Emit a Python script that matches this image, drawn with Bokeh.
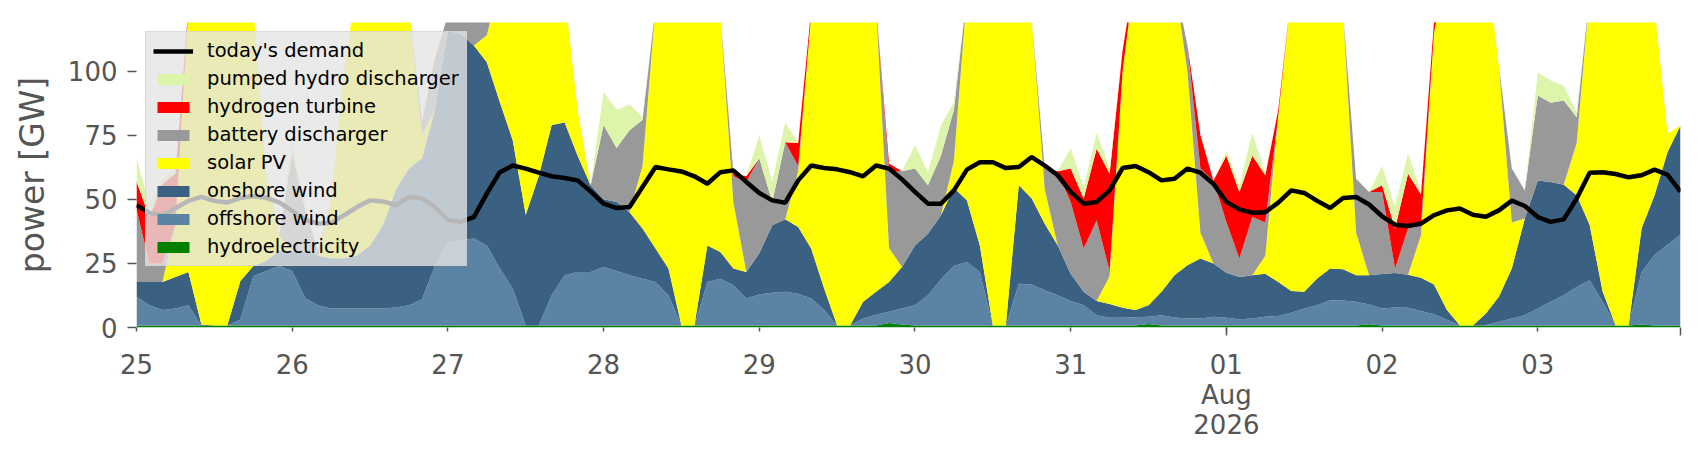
import numpy as np
from bokeh.plotting import figure
from bokeh.models import ColumnDataSource, Range1d, FixedTicker, Legend, LegendItem
from bokeh.embed import file_html
from bokeh.resources import INLINE

# time axis: hours since 2026-07-25 00:00, two-hour steps
hours = np.arange(0, 240, 2)

day_ticks = [0, 24, 48, 72, 96, 120, 144, 168, 192, 216]
day_labels = ["25", "26", "27", "28", "29", "30", "31", "01\nAug\n2026", "02", "03"]
month_ticks = [168, 238]

hydroelectricity = [0.8] * 120
hydroelectricity[58] = 1.8
hydroelectricity[59] = 1.2
hydroelectricity[78] = 1.4
hydroelectricity[95] = 1.3
hydroelectricity[116] = 1.2

offshore_wind = [
    11.2, 7.9, 6.0, 6.6, 7.9, 0, 0, 0, 2.2, 19.2, 21.2, 23.2,
    21.2, 10.7, 7.9, 6.6, 6.6, 6.6, 6.6, 6.6, 7.0, 7.9, 10.2, 23.2,
    32.2, 33.2, 33.9, 31.2, 22.2, 14.4, 0, 0, 11.8, 19.6, 20.9, 20.9,
    22.8, 21.2, 19.6, 18.2, 17.0, 11.8, 0, 0, 17.0, 18.2, 15.7, 10.5,
    12.1, 12.8, 13.1, 12.4, 10.5, 6.0, 0, 0, 2.7, 4.2, 4.3, 6.2,
    7.9, 11.8, 18.0, 23.2, 24.8, 20.9, 0, 0, 16.3, 16.0, 13.7, 11.8,
    9.5, 7.9, 4.0, 3.0, 3.0, 3.2, 2.8, 4.0, 3.1, 2.7, 2.7, 3.4,
    3.0, 2.4, 2.7, 3.4, 3.7, 5.0, 6.6, 7.9, 9.8, 9.7, 9.2, 7.7,
    6.6, 7.0, 6.9, 5.6, 4.4, 2.2, 0, 0, 0.2, 1.4, 2.7, 4.0,
    6.6, 9.2, 11.8, 15.0, 17.6, 9.2, 0, 0, 20.5, 27.6, 31.5, 35.4,
]
onshore_wind = [
    5.8, 9.1, 11.0, 12.3, 13.0, 0.4, 0, 0, 15.0, 4.0, 4.0, 6.0,
    8.0, 18.5, 19.3, 19.6, 19.6, 20.6, 24.6, 32.6, 46.2, 53.3, 55.0, 61.0,
    82.8, 80.5, 75.3, 71.5, 65.0, 57.8, 43.2, 58.2, 66.4, 59.6, 45.3, 33.8,
    26.4, 27.0, 24.6, 19.6, 13.0, 10.4, 0, 0, 14.2, 10.5, 6.5, 10.4,
    16.1, 26.3, 28.3, 26.0, 19.5, 8.4, 0, 0, 6.5, 8.9, 11.7, 16.2,
    23.3, 24.0, 25.0, 30.4, 24.0, 10.3, 0, 0, 38.4, 33.5, 26.0, 19.4,
    10.7, 5.2, 5.5, 5.4, 3.9, 2.8, 4.5, 9.1, 16.5, 20.8, 23.4, 20.8,
    17.6, 16.5, 16.9, 16.8, 13.3, 8.4, 6.5, 10.4, 12.4, 12.2, 10.4, 11.4,
    13.5, 13.5, 12.9, 13.0, 11.6, 3.8, 0, 0, 4.5, 9.8, 19.5, 37.7,
    50.0, 46.8, 43.1, 35.8, 21.6, 4.0, 0, 0, 16.9, 23.2, 36.1, 42.6,
]
solar_pv = [
    0, 0, 0, 20.3, 103.3, 138.8, 149.2, 144.2, 122.0, 101.0, 34.0, 6.0,
    0, 0, 0, 23.0, 73.0, 107.0, 118.0, 110.0, 86.0, 63.0, 9.0, 0,
    0, 0, 0, 10.5, 47.0, 77.0, 111.0, 96.0, 71.0, 50.0, 18.0, 0,
    0, 0, 0, 24.4, 94.2, 122.0, 149.2, 149.2, 118.0, 92.5, 26.0, 0,
    0, 0, 0, 21.8, 91.2, 129.8, 149.2, 149.2, 135.0, 111.1, 13.2, 0,
    0, 0, 0, 10.6, 80.4, 113.0, 149.2, 149.2, 94.5, 69.7, 13.5, 0,
    0, 0, 0, 10.8, 92.3, 133.2, 141.3, 136.1, 114.6, 75.7, 10.1, 0,
    0, 0, 0, 7.0, 64.9, 115.8, 131.1, 130.9, 122.0, 99.3, 16.6, 0,
    0, 0, 0, 16.6, 98.2, 133.2, 149.2, 149.2, 139.5, 90.0, 18.0, 0,
    0, 0, 0, 20.4, 90.0, 131.0, 149.2, 149.2, 106.4, 73.4, 7.2, 0,
]
battery_discharger = [
    28.2, 7.2, 7.2, 0, 0, 0, 0, 0, 0, 0, 0, 0,
    38.0, 16.0, 2.0, 0, 0, 0, 0, 0, 0, 0, 5.0, 20.0,
    6.2, 6.5, 11.0, 8.0, 0, 0, 0, 0, 0, 0, 0, 0,
    29.0, 21.0, 32.0, 18.0, 0, 0, 0, 0, 0, 0, 10.0, 35.1,
    37.0, 9.1, 30.1, 2.0, 0, 0, 0, 0, 0, 0, 30.0, 37.4,
    30.0, 18.9, 23.2, 20.0, 0, 0, 0, 0, 0, 0, 8.0, 28.6,
    28.0, 16.9, 31.5, 2.0, 0, 0, 0, 0, 0, 10.0, 25.0, 32.4,
    19.8, 7.2, 22.7, 13.0, 0, 0, 0, 0, 0, 0, 21.0, 32.5,
    32.0, 1.7, 18.0, 4.0, 0, 0, 0, 0, 0, 0, 21.0, 11.0,
    33.1, 30.9, 32.9, 10.0, 0, 0, 0, 0, 0, 0, 0, 0,
]
hydrogen_turbine = [
    11.0, 18.0, 31.0, 20.0, 0, 0, 0, 0, 0, 0, 0, 0,
    0, 0, 0, 0, 0, 0, 0, 0, 0, 0, 0, 0,
    0, 0, 0, 0, 0, 0, 0, 0, 0, 0, 0, 0,
    0, 0, 0, 0, 0, 0, 0, 0, 0, 0, 1.0, 2.2,
    0, 0, 0, 9.0, 2.0, 0, 0, 0, 0, 0, 3.0, 0,
    0, 0, 0, 0, 0, 0, 0, 0, 0, 0, 0, 0.4,
    13.0, 19.5, 27.9, 38.0, 8.0, 0, 0, 0, 0, 0, 13.0, 0,
    25.8, 26.0, 23.9, 18.4, 2.3, 0, 0, 0, 0, 0, 0, 0,
    2.6, 15.6, 21.4, 12.0, 4.0, 0, 0, 0, 0, 0, 0, 0,
    0, 0, 0, 0, 0, 0, 0, 0, 0, 0, 0, 0,
]
pumped_hydro_discharger = [
    9.0, 5.0, 2.0, 2.0, 0, 0, 0, 0, 0, 0, 0, 0,
    4.0, 2.0, 0, 0, 0, 0, 0, 0, 0, 0, 0, 0,
    0, 0, 0, 0, 0, 0, 0, 0, 0, 0, 0, 0,
    13.0, 15.0, 10.0, 1.0, 0, 0, 0, 0, 0, 0, 0, 0,
    9.0, 8.0, 7.7, 0, 0, 0, 0, 0, 0, 0, 0, 0,
    9.0, 5.1, 11.8, 3.0, 0, 0, 0, 0, 0, 0, 0, 0,
    8.0, 4.5, 6.3, 2.0, 0, 0, 0, 0, 0, 0, 0, 0,
    2.0, 2.6, 9.0, 0.6, 0, 0, 0, 0, 0, 0, 0, 0,
    7.5, 8.4, 8.0, 1.0, 0, 0, 0, 0, 0, 0, 0, 0,
    8.9, 8.7, 5.8, 2.0, 0, 0, 0, 0, 0, 0, 0, 0,
]
todays_demand = [
    47.7, 44.7, 43.8, 46.5, 49.4, 51.0, 49.4, 48.8, 50.5, 51.3, 50.6, 48.8,
    45.5, 42.0, 40.5, 40.9, 43.8, 47.0, 49.6, 49.2, 47.7, 51.0, 50.4, 47.0,
    42.0, 41.2, 43.1, 52.2, 60.6, 63.2, 62.0, 60.4, 59.0, 58.3, 57.4, 53.1,
    48.3, 46.6, 47.0, 54.8, 62.6, 61.7, 60.9, 59.0, 56.1, 60.6, 61.3, 56.8,
    52.5, 49.6, 48.7, 57.4, 63.2, 62.2, 61.7, 60.6, 59.0, 63.2, 62.0, 57.8,
    52.9, 48.3, 48.3, 53.5, 61.6, 64.5, 64.5, 62.2, 62.6, 66.5, 63.2, 59.4,
    52.9, 48.3, 49.0, 53.5, 62.2, 63.0, 60.6, 57.4, 58.0, 62.0, 60.4, 56.1,
    49.0, 46.1, 44.8, 45.0, 48.7, 53.5, 52.5, 49.4, 46.6, 50.5, 50.9, 48.0,
    43.4, 40.1, 39.6, 40.5, 43.8, 45.7, 46.4, 44.0, 43.2, 45.7, 49.5, 47.4,
    43.1, 41.2, 42.2, 50.3, 60.4, 60.6, 59.9, 58.6, 59.4, 61.6, 59.6, 53.0,
]

names = ["hydroelectricity", "offshore wind", "onshore wind", "solar PV",
         "battery discharger", "hydrogen turbine", "pumped hydro discharger"]
keys = ["hydro", "offshore", "onshore", "solar", "battery", "hydrogen", "pumped"]
colors = ["#008000", "#5b83a4", "#3b6182", "#ffff00", "#999999", "#ff0000", "#dcf5aa"]

src = ColumnDataSource(dict(
    x=hours, hydro=hydroelectricity, offshore=offshore_wind, onshore=onshore_wind,
    solar=solar_pv, battery=battery_discharger, hydrogen=hydrogen_turbine,
    pumped=pumped_hydro_discharger, demand=todays_demand,
))

FONT = "DejaVu Sans"
GRAY = "#555555"

p = figure(width=1698, height=452, output_backend="svg", toolbar_location=None,
           x_range=Range1d(0, 238), y_range=Range1d(0, 119),
           min_border_left=136, min_border_right=18, min_border_top=22,
           min_border_bottom=125)
p.outline_line_color = None
p.grid.visible = False
p.background_fill_color = "white"

stack = p.varea_stack(stackers=keys, x="x", color=colors, source=src)
dl = p.line("x", "demand", source=src, line_color="black", line_width=4.5)

items = [LegendItem(label="today's demand", renderers=[dl])]
for i in range(6, -1, -1):
    items.append(LegendItem(label=names[i], renderers=[stack[i]]))
legend = Legend(items=items, location="top_left", margin=9, padding=7, spacing=5,
                glyph_width=40, glyph_height=14, label_height=22, label_standoff=14,
                label_text_font=FONT, label_text_font_size="19.5px",
                label_text_color="black", label_text_line_height=1.0,
                background_fill_color="#e5e5e5", background_fill_alpha=0.8,
                border_line_color="#cccccc", border_line_width=1)
p.add_layout(legend)

# axes
p.yaxis.ticker = FixedTicker(ticks=[0, 25, 50, 75, 100])
p.yaxis.axis_label = "power [GW]"
p.xaxis.ticker = FixedTicker(ticks=day_ticks, minor_ticks=month_ticks)
p.xaxis.major_label_overrides = {t: lab for t, lab in zip(day_ticks, day_labels)}

for ax in (p.xaxis, p.yaxis):
    ax.axis_line_color = None
    ax.major_tick_line_color = GRAY
    ax.major_tick_line_width = 1.5
    ax.major_tick_in = 0
    ax.major_label_text_font = FONT
    ax.major_label_text_font_size = "26px"
    ax.major_label_text_color = GRAY
    ax.axis_label_text_font = FONT
    ax.axis_label_text_font_size = "33px"
    ax.axis_label_text_font_style = "normal"
    ax.axis_label_text_color = GRAY

p.yaxis.major_tick_out = 9
p.yaxis.minor_tick_line_color = None
p.yaxis.major_label_standoff = 10
p.yaxis.axis_label_standoff = 13

p.xaxis.major_tick_out = 4
p.xaxis.minor_tick_out = 8
p.xaxis.minor_tick_in = 0
p.xaxis.minor_tick_line_color = GRAY
p.xaxis.minor_tick_line_width = 1.5
p.xaxis.major_label_standoff = 14
p.xaxis.major_label_text_line_height = 1.0

open("out.html", "w").write(file_html(p, INLINE))
